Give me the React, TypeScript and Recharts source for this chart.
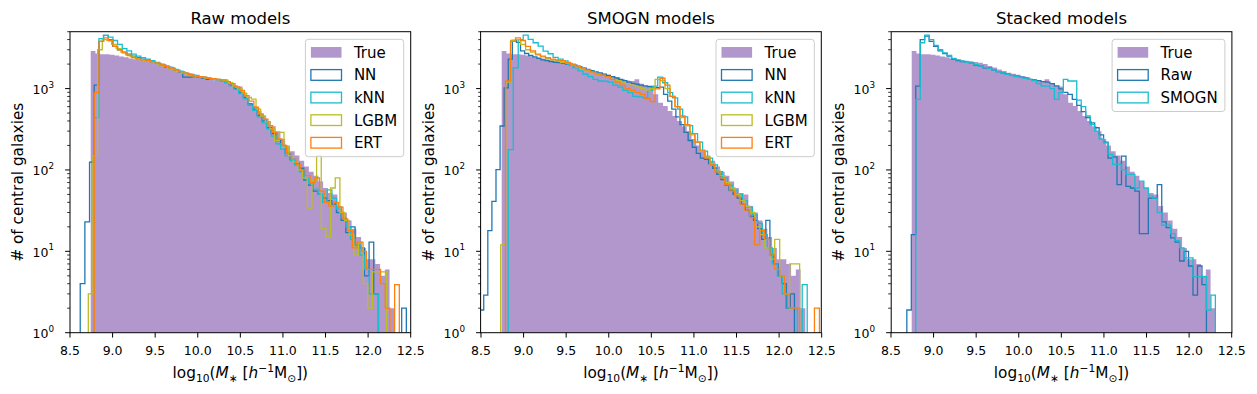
import React from 'react';
import { ComposedChart, Area, Line, XAxis, YAxis } from 'recharts';

const FONT = '"DejaVu Sans", Verdana, sans-serif';
const FLOOR = 0.5; // empty bins drop below the log axis and get clipped

const X_TICKS = [8.5, 9, 9.5, 10, 10.5, 11, 11.5, 12, 12.5];
const Y_DOMAIN = [1, 5000];
const Y_TICKS: number[] = [];
for (let d = 0; d < 4; d++) for (let m = 1; m < 10; m++) if (m * 10 ** d <= 5000) Y_TICKS.push(m * 10 ** d);

// histogram bins: [first edge, bin width], counts per bin
const TRUE_BIN = [8.743, 0.0557];
const TRUE_COUNTS = [
  2900, 2700, 2650, 2650, 2600, 2550, 2480, 2420, 2350, 2300,
  2250, 2200, 2170, 2120, 2080, 2000, 1900, 1820, 1720, 1640,
  1570, 1520, 1480, 1430, 1380, 1300, 1260, 1240, 1300, 1150,
  1080, 1060, 850, 670, 610, 530, 460, 400, 345, 300,
  240, 200, 170, 150, 130, 110, 95, 85, 72, 60,
  52, 50, 36, 30, 24, 19, 15, 11, 8, 8,
  7, 5, 6, 2,
];

const RAW_NN_BIN = [8.62, 0.0547];
const RAW_NN = [
  4, 23, 125, 1100, 3800, 4500, 4000, 3300, 3000, 2800,
  2650, 2500, 2400, 2300, 2250, 2150, 2050, 1950, 1850, 1780,
  1700, 1600, 1380, 1380, 1400, 1380, 1350, 1300, 1320, 1280,
  1250, 1200, 1100, 1000, 900, 780, 650, 560, 470, 400,
  330, 280, 230, 200, 160, 135, 120, 105, 75, 65,
  55, 50, 45, 42, 38, 30, 24, 17, 20, 12,
  11, 5, 13, 3, 0, 0, 0, 0, 0, 2,
];
const RAW_KNN_BIN = [8.785, 0.0547];
const RAW_KNN = [
  440, 4100, 4500, 4300, 3900, 3500, 3100, 2900, 2650, 2500,
  2400, 2300, 2200, 2100, 2000, 1900, 1820, 1720, 1640, 1560,
  1500, 1450, 1400, 1380, 1350, 1300, 1300, 1250, 1180, 1080,
  980, 870, 750, 620, 540, 450, 380, 320, 260, 210,
  180, 150, 130, 115, 95, 80, 68, 58, 50, 40,
  57, 45, 33, 26, 20, 14, 12, 9, 6, 3, 3,
];
const RAW_LGBM_BIN = [8.715, 0.0547];
const RAW_LGBM = [
  3, 150, 3000, 4000, 3900, 3500, 3100, 2800, 2600, 2450,
  2350, 2250, 2200, 2150, 2050, 1950, 1870, 1780, 1700, 1620,
  1550, 1480, 1430, 1400, 1380, 1350, 1320, 1300, 1280, 1250,
  1180, 1080, 990, 880, 780, 740, 560, 460, 390, 320,
  230, 290, 190, 150, 125, 100, 80, 34, 75, 150,
  19, 15, 60, 80, 30, 24, 16, 9, 13, 4,
  2, 5.6, 5.6, 5.6,
];
const RAW_ERT_BIN = [8.785, 0.0551];
const RAW_ERT = [
  900, 3800, 4200, 3900, 3300, 3000, 2750, 2550, 2400, 2300,
  2250, 2200, 2150, 2050, 1950, 1870, 1780, 1700, 1620, 1550,
  1480, 1430, 1400, 1380, 1340, 1320, 1300, 1280, 1220, 1150,
  1050, 950, 820, 700, 590, 490, 420, 350, 290, 240,
  200, 160, 135, 115, 100, 85, 70, 80, 55, 40,
  36, 40, 35, 25, 18, 11, 13, 10, 6, 6,
  6, 4, 2, 0, 3.9,
];

const SMOGN_NN_BIN = [8.484, 0.048];
const SMOGN_NN = [
  1.9, 2.9, 18, 41, 101, 347, 1020, 2300, 3900, 3700,
  2900, 2700, 2550, 2450, 2350, 2250, 2200, 2150, 2100, 2080,
  2050, 2000, 1950, 1900, 1850, 1780, 1720, 1660, 1600, 1560,
  1500, 1450, 1400, 1350, 1300, 1250, 1200, 1160, 1130, 1100,
  1080, 1060, 1050, 1030, 1040, 850, 700, 560, 450, 360,
  290, 230, 190, 160, 140, 135, 120, 105, 88, 76,
  65, 56, 50, 45, 38, 32, 27, 24, 19, 14,
  24, 9, 7, 5, 4, 2, 3,
];
const SMOGN_KNN_BIN = [8.82, 0.0585];
const SMOGN_KNN = [
  178, 1800, 4000, 4550, 4020, 3660, 3320, 2880, 2680, 2420,
  2300, 2190, 1985, 1800, 1650, 1500, 1400, 1300, 1240, 1230,
  1200, 1100, 1040, 950, 890, 800, 790, 770, 950, 1070,
  1385, 1180, 890, 770, 560, 450, 350, 280, 220, 170,
  140, 115, 95, 80, 65, 56, 50, 42, 35, 28,
  22, 16, 11, 7, 5, 3, 2, 2, 0, 3.9,
];
const SMOGN_LGBM_BIN = [8.731, 0.0585];
const SMOGN_LGBM = [
  12, 1200, 3900, 4000, 3500, 3000, 2800, 2600, 2450, 2350,
  2250, 2200, 2100, 2050, 1950, 1850, 1750, 1650, 1550, 1500,
  1450, 1400, 1300, 1250, 1200, 1150, 1100, 1050, 1000, 960,
  1000, 1300, 1250, 1000, 800, 600, 440, 350, 270, 220,
  170, 145, 120, 100, 85, 70, 60, 50, 42, 36,
  30, 20, 16, 11, 8, 14, 5, 3, 7, 7,
];
const SMOGN_ERT_BIN = [8.788, 0.0585];
const SMOGN_ERT = [
  1240, 3800, 4200, 3900, 3300, 2900, 2650, 2500, 2400, 2300,
  2250, 2200, 2100, 2000, 1900, 1800, 1700, 1600, 1520, 1460,
  1400, 1300, 1200, 1100, 1000, 950, 900, 850, 750, 690,
  990, 1340, 1100, 800, 600, 460, 360, 280, 220, 175,
  140, 115, 95, 80, 66, 55, 48, 38, 32, 26,
  12, 18, 14, 9, 6, 5, 3, 2, 2, 0,
  0, 0, 2,
];

const STACK_RAW_BIN = [8.686, 0.0525];
const STACK_RAW = [
  1.9, 16, 1070, 4000, 4400, 3800, 3300, 2900, 2700, 2500,
  2300, 2200, 2150, 2100, 2050, 1950, 1900, 1800, 1780, 1700,
  1620, 1560, 1500, 1450, 1420, 1380, 1350, 1300, 1280, 1250,
  1220, 1200, 1150, 1080, 990, 900, 850, 735, 620, 520,
  440, 380, 330, 270, 220, 140, 145, 66, 148, 63,
  60, 55, 16.5, 16.5, 45, 45, 66, 23, 19.5, 14.6,
  13, 7.6, 10, 6.6, 2.9, 6.6, 3.9,
];
const STACK_SMOGN_BIN = [8.791, 0.0525];
const STACK_SMOGN = [
  735, 3660, 4550, 4000, 3400, 3000, 2750, 2550, 2350, 2250,
  2180, 2100, 2050, 1970, 1900, 1820, 1760, 1700, 1620, 1560,
  1500, 1440, 1400, 1370, 1340, 1300, 1250, 1150, 1070, 1070,
  1000, 735, 900, 1300, 1240, 1240, 720, 600, 460, 360,
  300, 240, 215, 155, 117, 117, 100, 88, 88, 60,
  73, 60, 48, 45, 30, 21, 21, 16.5, 13.5, 11,
  8.3, 8.3, 4.9, 4.9, 4.9, 1.9, 2.9,
];

const TITLES = ['Raw models', 'SMOGN models', 'Stacked models'];
const COLORS = { NN: '#1f77b4', kNN: '#17becf', LGBM: '#bcbd22', ERT: '#ff7f0e', Raw: '#1f77b4', SMOGN: '#17becf' };
const TRUE_FILL = '#b197cc';

const PANELS = [
  [
    { name: 'NN', bin: RAW_NN_BIN, counts: RAW_NN },
    { name: 'kNN', bin: RAW_KNN_BIN, counts: RAW_KNN },
    { name: 'LGBM', bin: RAW_LGBM_BIN, counts: RAW_LGBM },
    { name: 'ERT', bin: RAW_ERT_BIN, counts: RAW_ERT },
  ],
  [
    { name: 'NN', bin: SMOGN_NN_BIN, counts: SMOGN_NN },
    { name: 'kNN', bin: SMOGN_KNN_BIN, counts: SMOGN_KNN },
    { name: 'LGBM', bin: SMOGN_LGBM_BIN, counts: SMOGN_LGBM },
    { name: 'ERT', bin: SMOGN_ERT_BIN, counts: SMOGN_ERT },
  ],
  [
    { name: 'Raw', bin: STACK_RAW_BIN, counts: STACK_RAW },
    { name: 'SMOGN', bin: STACK_SMOGN_BIN, counts: STACK_SMOGN },
  ],
];

// layout
const W = 1257;
const H = 394;
const PLOT_TOP = 31.7;
const PLOT_BOTTOM = 332.7;
const PLOT_W = 340.7;
const PLOT_LEFTS = [70, 480.6, 891.2];
const Y_AXIS_W = 70;
const RIGHT_PAD = 24;
const LEGEND_W = [98.3, 98.3, 112.8];

function steps(bin: number[], counts: number[]) {
  const [start, w] = bin;
  const pts = [{ x: start, y: FLOOR }];
  counts.forEach((c, i) => pts.push({ x: start + i * w, y: c > 0 ? c : FLOOR }));
  pts.push({ x: start + counts.length * w, y: FLOOR });
  return pts;
}

function LogTick(props: any) {
  const { x, y, payload } = props;
  const v = payload.value;
  const p = Math.round(Math.log10(v));
  if (Math.abs(10 ** p - v) > 1e-9) {
    return <line x1={x - 2.8} x2={x} y1={y} y2={y} stroke="#000" strokeWidth={0.8} />;
  }
  return (
    <g>
      <line x1={x - 4.9} x2={x} y1={y} y2={y} stroke="#000" strokeWidth={1} />
      <text x={x - 16} y={y + 5.5} textAnchor="end" fontSize={12.5} fontFamily={FONT} fill="#000">
        10<tspan dy={-6.5} fontSize={8.8}>{p}</tspan>
      </text>
    </g>
  );
}

function Panel({ idx }: { idx: number }) {
  const left = PLOT_LEFTS[idx];
  const series = PANELS[idx];
  return (
    <div style={{ position: 'absolute', left: left - Y_AXIS_W, top: 0 }}>
      <ComposedChart
        width={Y_AXIS_W + PLOT_W + RIGHT_PAD}
        height={H}
        margin={{ top: PLOT_TOP, right: RIGHT_PAD, bottom: 0, left: 0 }}
      >
        <XAxis
          type="number"
          dataKey="x"
          domain={[8.5, 12.5]}
          ticks={X_TICKS}
          interval={0}
          allowDataOverflow
          height={H - PLOT_BOTTOM}
          axisLine={false}
          stroke="#000"
          tickSize={4.9}
          tickMargin={8.5}
          tickFormatter={(v: number) => v.toFixed(1)}
          tick={{ fill: '#000', fontSize: 12.5, fontFamily: FONT }}
        />
        <YAxis
          type="number"
          scale="log"
          domain={Y_DOMAIN}
          allowDataOverflow
          ticks={Y_TICKS}
          interval={0}
          width={Y_AXIS_W}
          axisLine={false}
          tickLine={false}
          tickSize={0}
          tickMargin={0}
          tick={(p: any) => <LogTick {...p} />}
        />
        <Area
          data={steps(TRUE_BIN, TRUE_COUNTS)}
          dataKey="y"
          type="stepAfter"
          fill={TRUE_FILL}
          fillOpacity={1}
          stroke="none"
          isAnimationActive={false}
        />
        {series.map((s) => (
          <Line
            key={s.name}
            data={steps(s.bin, s.counts)}
            dataKey="y"
            type="stepAfter"
            stroke={(COLORS as any)[s.name]}
            strokeWidth={1.3}
            dot={false}
            activeDot={false}
            isAnimationActive={false}
          />
        ))}
      </ComposedChart>
    </div>
  );
}

function Overlay() {
  return (
    <svg width={W} height={H} style={{ position: 'absolute', left: 0, top: 0, pointerEvents: 'none' }}>
      {PLOT_LEFTS.map((L, i) => {
        const cx = L + PLOT_W / 2;
        const names = ['True', ...PANELS[i].map((s) => s.name)];
        const bw = LEGEND_W[i];
        const bx = L + PLOT_W - 7 - bw;
        return (
          <g key={i} fontFamily={FONT} fill="#000">
            <rect x={L} y={PLOT_TOP} width={PLOT_W} height={PLOT_BOTTOM - PLOT_TOP} fill="none" stroke="#000" strokeWidth={1} />
            <text x={cx} y={24} textAnchor="middle" fontSize={16.5}>{TITLES[i]}</text>
            <text x={cx} y={378} textAnchor="middle" fontSize={15.3}>
              log<tspan fontSize={10.7} dy={3.5}>10</tspan>
              <tspan dy={-3.5}>(</tspan>
              <tspan fontStyle="italic">M</tspan>
              <tspan fontSize={10.7} dy={3.5}>∗</tspan>
              <tspan dy={-3.5}> [</tspan>
              <tspan fontStyle="italic">h</tspan>
              <tspan fontSize={10.7} dy={-6}>−1</tspan>
              <tspan dy={6}>M</tspan>
              <tspan fontSize={10.7} dy={3.5}>⊙</tspan>
              <tspan dy={-3.5}>])</tspan>
            </text>
            <text
              x={L - 47}
              y={(PLOT_TOP + PLOT_BOTTOM) / 2}
              textAnchor="middle"
              fontSize={15.3}
              transform={`rotate(-90 ${L - 47} ${(PLOT_TOP + PLOT_BOTTOM) / 2})`}
            >
              # of central galaxies
            </text>
            <rect x={bx} y={39.3} width={bw} height={22.6 * names.length + 4.4} rx={3} fill="#fff" fillOpacity={0.8} stroke="#cccccc" strokeWidth={1} />
            {names.map((n, r) => {
              const cy = 52.3 + 22.6 * r;
              return (
                <g key={n}>
                  {n === 'True' ? (
                    <rect x={bx + 5.5} y={cy - 5.3} width={30.6} height={10.7} fill={TRUE_FILL} />
                  ) : (
                    <rect x={bx + 5.5} y={cy - 5.3} width={30.6} height={10.7} fill="none" stroke={(COLORS as any)[n]} strokeWidth={1.3} />
                  )}
                  <text x={bx + 48.5} y={cy + 5.4} fontSize={15}>{n}</text>
                </g>
              );
            })}
          </g>
        );
      })}
    </svg>
  );
}

export default function App() {
  return (
    <div style={{ position: 'absolute', left: 0, top: 0, width: W, height: H, background: '#fff' }}>
      {PANELS.map((_, i) => (
        <Panel key={i} idx={i} />
      ))}
      <Overlay />
    </div>
  );
}
